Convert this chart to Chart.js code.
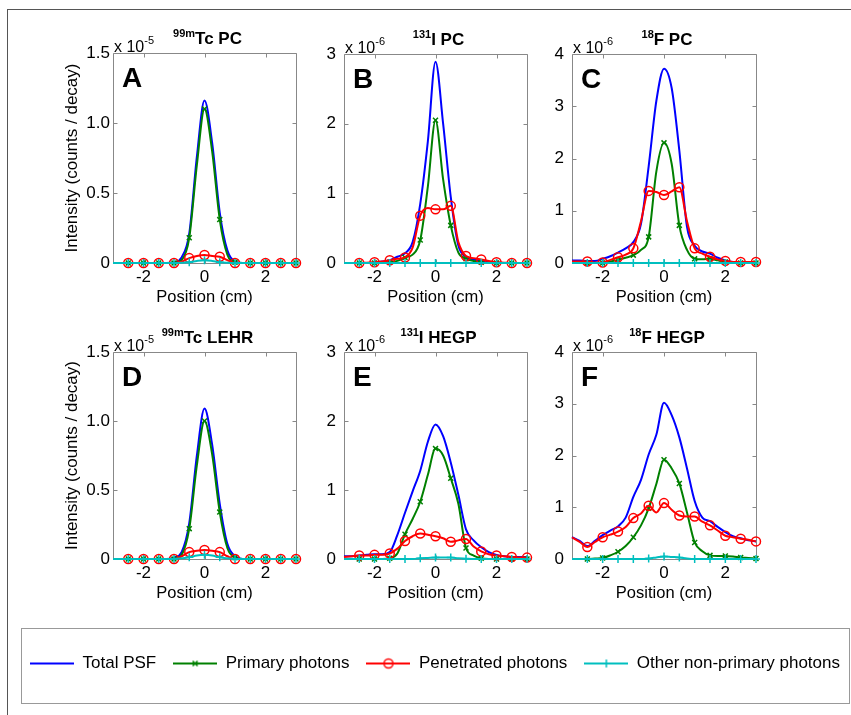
<!DOCTYPE html>
<html>
<head>
<meta charset="utf-8">
<title>Point spread functions</title>
<script src="https://cdn.jsdelivr.net/npm/chart.js@4.4.1/dist/chart.umd.min.js"></script>
<style>
  html, body { margin: 0; padding: 0; background: #fff; }
  body { position: relative; width: 851px; height: 715px; overflow: hidden; }
  #frame { position: absolute; left: 7px; top: 9px; width: 900px; height: 800px;
           border-left: 1px solid #555; border-top: 1px solid #555; }
  canvas.panel { position: absolute; }
  #legendBox { position: absolute; left: 21px; top: 628px; width: 827px; height: 74px;
               border: 1px solid #999; background: #fff; }
  #legend { position: absolute; left: -37px; top: 0; }
</style>
</head>
<body>
<div id="frame"></div>
<div id="legendBox"><canvas id="legend" width="900" height="150"></canvas></div>
<script>
// Source position along the detector (cm)
const positions = [-3, -2.75, -2.5, -2.25, -2, -1.75, -1.5, -1.25, -1, -0.75, -0.5, -0.25, 0,
                   0.25, 0.5, 0.75, 1, 1.25, 1.5, 1.75, 2, 2.25, 2.5, 2.75, 3];

// 99mTc, PC collimator (x 1e-5 counts / decay)
const totalA      = [0,0,0,0,0,0,0,0,0.005,0.04,0.21,0.76,1.16,0.86,0.36,0.09,0.01,0,0,0,0,0,0,0,0];
const primaryA    = [0,0,0,0,0,0,0,0,0,0.02,0.18,0.70,1.10,0.80,0.31,0.06,0.005,0,0,0,0,0,0,0,0];
const penetratedA = [0,0,0,0,0,0,0,0,0,0.01,0.035,0.05,0.057,0.05,0.045,0.02,0,0,0,0,0,0,0,0,0];
const otherA      = [0,0,0,0,0,0,0,0,0,0.002,0.006,0.015,0.02,0.015,0.006,0.002,0,0,0,0,0,0,0,0,0];

// 131I, PC collimator (x 1e-6)
const totalB      = [0,0,0,0,0.005,0.02,0.04,0.09,0.14,0.30,0.85,1.75,2.89,2.00,0.95,0.25,0.09,0.05,0.03,0.015,0.01,0,0,0,0];
const primaryB    = [0,0,0,0,0,0,0.01,0.03,0.08,0.12,0.33,1.10,2.05,1.20,0.54,0.15,0.06,0.03,0.01,0,0,0,0,0,0];
const penetratedB = [0,0,0,0.005,0.01,0.02,0.04,0.06,0.08,0.22,0.68,0.79,0.77,0.77,0.82,0.30,0.10,0.07,0.05,0.03,0.01,0.005,0,0,0];
const otherB      = [0,0,0,0,0,0,0,0,0,0,0,0,0,0,0,0,0,0,0,0,0,0,0,0,0];

// 18F, PC collimator (x 1e-6)
const totalC      = [0.05,0.05,0.04,0.04,0.08,0.13,0.20,0.28,0.40,0.75,1.85,3.10,3.72,3.35,2.15,0.69,0.33,0.22,0.18,0.10,0.05,0.02,0.01,0.01,0.01];
const primaryC    = [0,0,0,0,0,0.03,0.06,0.10,0.15,0.25,0.50,1.75,2.30,1.90,0.72,0.25,0.08,0.07,0.08,0.05,0.02,0,0,0,0];
const penetratedC = [0.03,0.03,0.03,0.01,0.01,0.06,0.11,0.16,0.28,0.80,1.38,1.36,1.30,1.37,1.45,0.80,0.28,0.18,0.12,0.07,0.04,0.02,0.02,0.02,0.02];
const otherC      = [0,0,0,0,0,0,0,0,0,0,0,0,0,0,0,0,0,0,0,0,0,0,0,0,0];

// 99mTc, LEHR collimator (x 1e-5)
const totalD      = [0,0,0,0,0,0,0,0,0.01,0.05,0.26,0.75,1.09,0.83,0.40,0.11,0.02,0,0,0,0,0,0,0,0];
const primaryD    = [0,0,0,0,0,0,0,0,0,0.03,0.22,0.68,1.00,0.76,0.34,0.08,0.01,0,0,0,0,0,0,0,0];
const penetratedD = [0,0,0,0,0,0,0,0,0,0.02,0.05,0.06,0.065,0.06,0.05,0.02,0,0,0,0,0,0,0,0,0];
const otherD      = [0,0,0,0,0,0,0,0,0,0.005,0.012,0.025,0.03,0.025,0.012,0.005,0,0,0,0,0,0,0,0,0];

// 131I, HEGP collimator (x 1e-6)
const totalE      = [0.04,0.04,0.05,0.06,0.07,0.07,0.10,0.35,0.67,0.98,1.28,1.70,1.95,1.78,1.40,0.93,0.43,0.27,0.17,0.10,0.06,0.04,0.03,0.03,0.03];
const primaryE    = [0,0,0,0,0,0,0.01,0.08,0.36,0.58,0.83,1.22,1.60,1.50,1.17,0.80,0.16,0.05,0.01,0,0,0,0,0,0];
const penetratedE = [0.03,0.04,0.05,0.05,0.06,0.06,0.08,0.15,0.26,0.33,0.37,0.35,0.33,0.30,0.25,0.27,0.29,0.18,0.11,0.07,0.05,0.04,0.03,0.02,0.02];
const otherE      = [0,0,0,0,0,0,0,0,0,0,0.01,0.015,0.02,0.02,0.02,0.01,0.005,0,0,0,0,0,0,0,0];

// 18F, HEGP collimator (x 1e-6)
const totalF      = [0.42,0.35,0.25,0.35,0.46,0.55,0.63,0.80,1.20,1.53,2.02,2.40,3.02,2.78,2.35,1.75,1.12,0.80,0.73,0.62,0.52,0.44,0.40,0.36,0.34];
const primaryF    = [0,0,0,0.01,0.02,0.07,0.14,0.25,0.42,0.65,0.98,1.45,1.92,1.75,1.46,0.90,0.32,0.15,0.07,0.06,0.06,0.05,0.03,0.02,0.01];
const penetratedF = [0.42,0.33,0.23,0.33,0.42,0.47,0.53,0.62,0.79,0.88,1.03,0.90,1.08,0.95,0.84,0.82,0.82,0.72,0.65,0.55,0.45,0.42,0.39,0.37,0.34];
const otherF      = [0,0,0,0,0,0,0,0,0,0,0.01,0.03,0.05,0.04,0.03,0.01,0,0,0,0,0,0,0,0,0];

// Axis ticks
const xTickValues = [-2, 0, 2];
const xTickLabels = ['-2', '0', '2'];
const yTicksTc  = [0, 0.5, 1.0, 1.5];
const yLabelsTc = ['0', '0.5', '1.0', '1.5'];
const yTicksI   = [0, 1, 2, 3];
const yLabelsI  = ['0', '1', '2', '3'];
const yTicksF   = [0, 1, 2, 3, 4];
const yLabelsF  = ['0', '1', '2', '3', '4'];

const seriesNames = ['Total PSF', 'Primary photons', 'Penetrated photons', 'Other non-primary photons'];

const FONT = "'Liberation Sans', Arial, Helvetica, sans-serif";
Chart.defaults.font.family = FONT;
Chart.defaults.color = '#000';
Chart.defaults.animation = false;

const AXIS_COLOR = '#888';
const TICK_LEN = 4;
const PAD_LEFT = 60, PAD_TOP = 50, PAD_RIGHT = 14, PAD_BOTTOM = 48;

const seriesStyles = [
  { color: '#0000ff', marker: null,       size: 0,   order: 4 },
  { color: '#008000', marker: 'crossRot', size: 3.5, order: 3 },
  { color: '#ff0000', marker: 'circle',   size: 4.5, order: 2 },
  { color: '#00bfbf', marker: 'cross',    size: 4,   order: 1 }
];

// markers every 0.5 cm, from -2.5 cm on
function isMarker(i) { return i >= 2 && i % 2 === 0; }

function makeDataset(values, k) {
  const st = seriesStyles[k];
  return {
    label: seriesNames[k],
    data: positions.map((p, i) => ({ x: p, y: values[i] })),
    borderColor: st.color,
    borderWidth: 2,
    fill: false,
    cubicInterpolationMode: 'monotone',
    pointStyle: st.marker || 'circle',
    pointRadius: st.marker ? (c => isMarker(c.dataIndex) ? st.size : 0) : 0,
    pointHoverRadius: 0,
    pointBorderColor: st.color,
    pointBackgroundColor: 'rgba(0,0,0,0)',
    pointBorderWidth: 1.5,
    clip: false,
    order: st.order
  };
}

// Box with inward ticks, title with isotope superscript, exponent, panel letter
const panelDecor = {
  id: 'panelDecor',
  beforeDatasetsDraw(chart) {
    const { ctx, chartArea: a, scales: { x, y } } = chart;
    const l = a.left + 0.5, r = a.right + 0.5, t = a.top + 0.5, b = a.bottom + 0.5;
    ctx.save();
    ctx.strokeStyle = AXIS_COLOR;
    ctx.lineWidth = 1;
    ctx.beginPath();
    ctx.rect(l, t, r - l, b - t);
    x.ticks.forEach(tk => {
      const px = Math.round(x.getPixelForValue(tk.value)) + 0.5;
      ctx.moveTo(px, b); ctx.lineTo(px, b - TICK_LEN);
      ctx.moveTo(px, t); ctx.lineTo(px, t + TICK_LEN);
    });
    y.ticks.forEach(tk => {
      const py = Math.round(y.getPixelForValue(tk.value)) + 0.5;
      ctx.moveTo(l, py); ctx.lineTo(l + TICK_LEN, py);
      ctx.moveTo(r, py); ctx.lineTo(r - TICK_LEN, py);
    });
    ctx.stroke();
    ctx.restore();
  },
  afterDraw(chart, args, o) {
    const { ctx, chartArea: a } = chart;
    ctx.save();
    ctx.fillStyle = '#000';
    ctx.textAlign = 'left';
    ctx.textBaseline = 'alphabetic';

    // title
    ctx.font = `bold 11px ${FONT}`;
    const ws = ctx.measureText(o.sup).width;
    ctx.font = `bold 17px ${FONT}`;
    const wm = ctx.measureText(o.name).width;
    const x0 = (a.left + a.right) / 2 + 3 - (ws + wm) / 2;
    ctx.font = `bold 11px ${FONT}`;
    ctx.fillText(o.sup, x0, a.top - 16);
    ctx.font = `bold 17px ${FONT}`;
    ctx.fillText(o.name, x0 + ws, a.top - 9);

    // axis exponent
    ctx.font = `16px ${FONT}`;
    ctx.fillText('x 10', a.left + 1, a.top - 1);
    const wx = ctx.measureText('x 10').width;
    ctx.font = `11px ${FONT}`;
    ctx.fillText(o.exp, a.left + 1 + wx, a.top - 9);

    // panel letter
    ctx.font = `bold 28px ${FONT}`;
    ctx.fillText(o.letter, a.left + 9, a.top + 34);
    ctx.restore();
  }
};

const panelDefs = [
  { letter: 'A', rect: [113, 53, 296, 263], sup: '99m', name: 'Tc PC',   exp: '-5', yMax: 1.5, yTicks: yTicksTc, yLabels: yLabelsTc, series: [totalA, primaryA, penetratedA, otherA], yTitle: true,  labelPad: 3 },
  { letter: 'B', rect: [344, 54, 527, 263], sup: '131', name: 'I PC',    exp: '-6', yMax: 3,   yTicks: yTicksI,  yLabels: yLabelsI,  series: [totalB, primaryB, penetratedB, otherB], yTitle: false, labelPad: 8 },
  { letter: 'C', rect: [572, 54, 756, 263], sup: '18',  name: 'F PC',    exp: '-6', yMax: 4,   yTicks: yTicksF,  yLabels: yLabelsF,  series: [totalC, primaryC, penetratedC, otherC], yTitle: false, labelPad: 8 },
  { letter: 'D', rect: [113, 352, 296, 559], sup: '99m', name: 'Tc LEHR', exp: '-5', yMax: 1.5, yTicks: yTicksTc, yLabels: yLabelsTc, series: [totalD, primaryD, penetratedD, otherD], yTitle: true,  labelPad: 3 },
  { letter: 'E', rect: [344, 352, 527, 559], sup: '131', name: 'I HEGP',  exp: '-6', yMax: 3,   yTicks: yTicksI,  yLabels: yLabelsI,  series: [totalE, primaryE, penetratedE, otherE], yTitle: false, labelPad: 8 },
  { letter: 'F', rect: [572, 352, 756, 559], sup: '18',  name: 'F HEGP',  exp: '-6', yMax: 4,   yTicks: yTicksF,  yLabels: yLabelsF,  series: [totalF, primaryF, penetratedF, otherF], yTitle: false, labelPad: 8 }
];

panelDefs.forEach(def => {
  const [L, T, R, B] = def.rect;
  const cv = document.createElement('canvas');
  cv.className = 'panel';
  cv.width = (R - L) + PAD_LEFT + PAD_RIGHT;
  cv.height = (B - T) + PAD_TOP + PAD_BOTTOM;
  cv.style.left = (L - PAD_LEFT) + 'px';
  cv.style.top = (T - PAD_TOP) + 'px';
  document.body.appendChild(cv);

  new Chart(cv, {
    type: 'line',
    data: { datasets: def.series.map((vals, k) => makeDataset(vals, k)) },
    options: {
      responsive: false,
      animation: false,
      events: [],
      layout: { padding: { left: 0, top: PAD_TOP, right: PAD_RIGHT, bottom: 0 } },
      plugins: {
        legend: { display: false },
        tooltip: { enabled: false },
        panelDecor: { letter: def.letter, sup: def.sup, name: def.name, exp: def.exp }
      },
      scales: {
        x: {
          type: 'linear', min: -3, max: 3,
          grid: { display: false, drawTicks: false },
          border: { display: false },
          afterBuildTicks: s => { s.ticks = xTickValues.map(v => ({ value: v })); },
          afterFit: s => { s.height = PAD_BOTTOM; },
          ticks: { padding: 4, font: { size: 17 }, maxRotation: 0, autoSkip: false,
                   callback: (v, i) => xTickLabels[i] },
          title: { display: true, text: 'Position (cm)', font: { size: 16.5 },
                   padding: { top: 0, bottom: 4 } }
        },
        y: {
          type: 'linear', min: 0, max: def.yMax,
          grid: { display: false, drawTicks: false },
          border: { display: false },
          afterBuildTicks: s => { s.ticks = def.yTicks.map(v => ({ value: v })); },
          afterFit: s => { s.width = PAD_LEFT; },
          ticks: { padding: def.labelPad, font: { size: 17 }, autoSkip: false,
                   callback: (v, i) => def.yLabels[i] },
          title: { display: def.yTitle, text: 'Intensity (counts / decay)', font: { size: 17 },
                   padding: { top: 9, bottom: 0 } }
        }
      }
    },
    plugins: [panelDecor]
  });
});

// Legend samples: line with its marker
function legendSymbol(st) {
  const c = document.createElement('canvas');
  c.width = 44; c.height = 14;
  const g = c.getContext('2d');
  g.strokeStyle = st.color;
  g.lineWidth = 2;
  g.beginPath(); g.moveTo(0, 7); g.lineTo(44, 7); g.stroke();
  g.lineWidth = 1.5;
  const cx = 22, cy = 7, r = st.size;
  g.beginPath();
  if (st.marker === 'circle') {
    g.arc(cx, cy, r, 0, Math.PI * 2);
  } else if (st.marker === 'cross') {
    g.moveTo(cx - r, cy); g.lineTo(cx + r, cy);
    g.moveTo(cx, cy - r); g.lineTo(cx, cy + r);
  } else if (st.marker === 'crossRot') {
    const d = r * Math.SQRT1_2;
    g.moveTo(cx - d, cy - d); g.lineTo(cx + d, cy + d);
    g.moveTo(cx - d, cy + d); g.lineTo(cx + d, cy - d);
  }
  g.stroke();
  return c;
}
const legendSymbols = seriesStyles.map(legendSymbol);

new Chart(document.getElementById('legend'), {
  type: 'line',
  data: { datasets: seriesNames.map((n, k) => ({ label: n, data: [], borderColor: seriesStyles[k].color })) },
  options: {
    responsive: false,
    animation: false,
    events: [],
    layout: { padding: { top: 9 } },
    scales: { x: { display: false }, y: { display: false } },
    plugins: {
      tooltip: { enabled: false },
      legend: {
        display: true, position: 'top', align: 'center',
        labels: {
          usePointStyle: true, pointStyleWidth: 44, padding: 17,
          font: { size: 17 }, color: '#000',
          generateLabels: () => seriesNames.map((n, k) => ({
            text: n, pointStyle: legendSymbols[k], fillStyle: 'rgba(0,0,0,0)',
            strokeStyle: seriesStyles[k].color, lineWidth: 0, hidden: false,
            datasetIndex: k, fontColor: '#000'
          }))
        }
      }
    }
  }
});
</script>
</body>
</html>
